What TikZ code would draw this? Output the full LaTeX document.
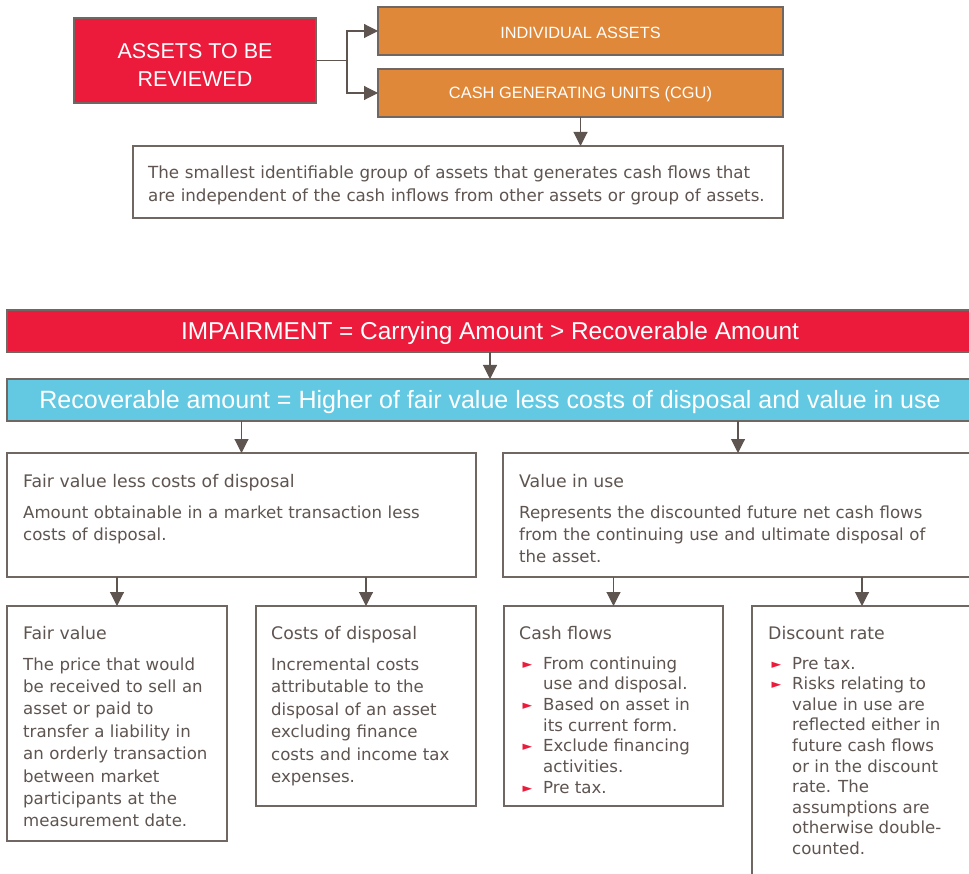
\documentclass[tikz,border=0pt]{standalone}
\usepackage{fontspec}
\setmainfont{DejaVu Sans}
\newfontfamily\hdfont{Liberation Sans}
\usetikzlibrary{arrows.meta}
\definecolor{tx}{RGB}{94,84,80}
\definecolor{bd}{RGB}{112,102,98}
\definecolor{rd}{RGB}{237,27,59}
\definecolor{org}{RGB}{224,136,58}
\definecolor{cy}{RGB}{99,201,227}
\definecolor{bul}{RGB}{237,27,59}
\newcommand\bmark{\hspace{3.5pt}\raisebox{1pt}{\fontsize{12.5}{12.5}\selectfont\color{bul}►}}
\begin{document}
\begin{tikzpicture}[x=1pt,y=-1pt,
  box/.style={draw=bd,line width=1.3pt,anchor=north west,inner sep=0pt,outer sep=0pt,fill=white},
  arr/.style={draw=tx,line width=1.1pt,-{Triangle[width=14pt,length=14pt]}},
  conn/.style={draw=tx,line width=1.1pt},
  body/.style={anchor=base west,inner sep=0pt,align=left,text width=#1,text=tx,font=\fontsize{16.6}{22}\selectfont},
  body/.default=460pt,
  ttl/.style={anchor=base west,inner sep=0pt,text=tx,font=\fontsize{17.3}{22}\selectfont},
  blist/.style={anchor=base west,inner sep=0pt,text=tx},
  wt/.style={text=white,align=center,inner sep=0pt}]
\useasboundingbox (0,0) rectangle (969,874);
\clip (0,0) rectangle (969,874);
% top section
\node[box,fill=rd,minimum width=242pt,minimum height=85pt] (assets) at (74,18) {};
\node[wt,font=\hdfont\fontsize{21.5}{28}\selectfont] (assetst) at ([yshift=-4.5pt]assets.center) {ASSETS TO BE\\REVIEWED};
\node[box,fill=org,minimum width=405pt,minimum height=48pt] (indiv) at (378,7) {};
\node[wt,font=\hdfont\fontsize{16.3}{18}\selectfont] (indivt) at ([yshift=-1.5pt]indiv.center) {INDIVIDUAL ASSETS};
\node[box,fill=org,minimum width=405pt,minimum height=48pt] (cgu) at (378,69) {};
\node[wt,font=\hdfont\fontsize{16.4}{18}\selectfont] (cgut) at ([yshift=-1.5pt]cgu.center) {CASH GENERATING UNITS (CGU)};
\node[box,minimum width=650pt,minimum height=72pt] (desc) at (133,146) {};
\node[body=700pt,font=\fontsize{16.7}{23}\selectfont] (desct) at (148,179) {The smallest identifiable group of assets that generates cash flows that\\are independent of the cash inflows from other assets or group of assets.};
\draw[conn] (assets.east) -- ++(31,0) coordinate (j);
\draw[arr] (j) |- (indiv.west);
\draw[arr] (j) |- (cgu.west);
\draw[arr] (cgu.south) -- (cgu.south |- desc.north);
% bottom section
\node[box,fill=rd,minimum width=966pt,minimum height=42pt] (imp) at (7,310) {};
\node[wt,font=\hdfont\fontsize{24.4}{28}\selectfont] (impt) at ([yshift=-2pt]imp.center) {IMPAIRMENT = Carrying Amount > Recoverable Amount};
\node[box,fill=cy,minimum width=966pt,minimum height=42pt] (rec) at (7,379) {};
\node[wt,font=\hdfont\fontsize{25}{28}\selectfont] (rect) at ([yshift=-2.5pt]rec.center) {Recoverable amount = Higher of fair value less costs of disposal and value in use};
\draw[arr] (imp.south) -- (rec.north);
\node[box,minimum width=469pt,minimum height=124pt] (fvlc) at (7,453) {};
\node[box,minimum width=470pt,minimum height=124pt] (viu) at (503,453) {};
\draw[arr] (fvlc.north |- rec.south) -- (fvlc.north);
\draw[arr] (viu.north |- rec.south) -- (viu.north);
\node[ttl] (fvlct) at (23,487) {Fair value less costs of disposal};
\node[body] (fvlcb) at (23,518) {Amount obtainable in a market transaction less\\costs of disposal.};
\node[ttl] (viut) at (519,487) {Value in use};
\node[body] (viub) at (519,518) {Represents the discounted future net cash flows\\from the continuing use and ultimate disposal of\\the asset.};
\node[box,minimum width=220pt,minimum height=235pt] (fv) at (7,606) {};
\node[box,minimum width=220pt,minimum height=200pt] (cod) at (256,606) {};
\node[box,minimum width=219pt,minimum height=200pt] (cf) at (504,606) {};
\node[box,minimum width=220pt,minimum height=300pt] (dr) at (752,606) {};
\draw[arr] (fv.north |- fvlc.south) -- (fv.north);
\draw[arr] (cod.north |- fvlc.south) -- (cod.north);
\draw[arr] (cf.north |- viu.south) -- (cf.north);
\draw[arr] (dr.north |- viu.south) -- (dr.north);
\node[ttl] (fvt) at (23,639) {Fair value};
\node[body=300pt,font=\fontsize{16.6}{22.4}\selectfont] (fvb) at (23,670) {The price that would\\be received to sell an\\asset or paid to\\transfer a liability in\\an orderly transaction\\between market\\participants at the\\measurement date.};
\node[ttl] (codt) at (271,639) {Costs of disposal};
\node[body=300pt,font=\fontsize{16.6}{22.5}\selectfont] (codb) at (271,670) {Incremental costs\\attributable to the\\disposal of an asset\\excluding finance\\costs and income tax\\expenses.};
\node[ttl] (cft) at (519,639) {Cash flows};
\node[blist,font=\fontsize{16.6}{20.7}\selectfont] (cfb) at (519,669) {\begin{tabular}[t]{@{}p{24pt}@{}l@{}}
\bmark & From continuing\\
 & use and disposal.\\
\bmark & Based on asset in\\
 & its current form.\\
\bmark & Exclude financing\\
 & activities.\\
\bmark & Pre tax.
\end{tabular}};
\node[ttl] (drt) at (768,639) {Discount rate};
\node[blist,font=\fontsize{16.6}{20.6}\selectfont] (drb) at (768,669) {\begin{tabular}[t]{@{}p{24pt}@{}l@{}}
\bmark & Pre tax.\\
\bmark & Risks relating to\\
 & value in use are\\
 & reflected either in\\
 & future cash flows\\
 & or in the discount\\
 & rate. The\\
 & assumptions are\\
 & otherwise double-\\
 & counted.
\end{tabular}};
\end{tikzpicture}
\end{document}
